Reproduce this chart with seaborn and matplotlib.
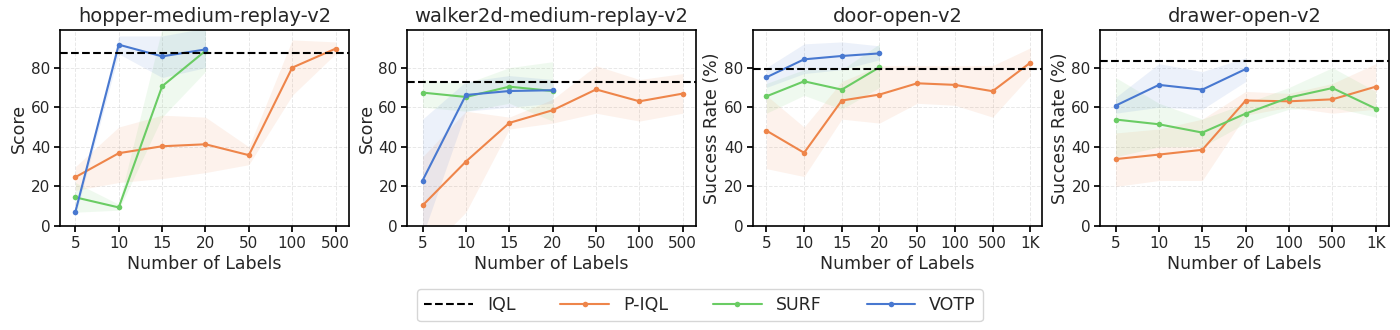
import numpy as np
import pandas as pd
import matplotlib
matplotlib.use("Agg")
import matplotlib.pyplot as plt
import seaborn as sns

# tick labels per task
hopper_x = ["5", "10", "15", "20", "50", "100", "500"]
walker_x = ["5", "10", "15", "20", "50", "100", "500"]
door_x = ["5", "10", "15", "20", "50", "100", "500", "1K"]
drawer_x = ["5", "10", "15", "20", "100", "500", "1K"]

# hopper-medium-replay-v2
hopper_iql = 87.6
hopper_piql = [24.7, 36.8, 40.3, 41.3, 35.8, 80.0, 89.6]
hopper_piql_lo = [18, 22, 24, 27, 31, 66, 87]
hopper_piql_hi = [30, 50, 56, 55, 40, 94, 93]
hopper_surf = [14.5, 9.4, 70.6, 88.5]
hopper_surf_lo = [7, 8, 55, 78]
hopper_surf_hi = [22, 11, 100, 100]
hopper_votp = [7.2, 91.6, 85.7, 89.2]
hopper_votp_lo = [5, 87, 75, 80]
hopper_votp_hi = [9, 96, 96, 100]

# walker2d-medium-replay-v2
walker_iql = 72.9
walker_piql = [10.4, 32.6, 52.1, 58.5, 69.0, 63.0, 66.9]
walker_piql_lo = [-15, 7, 49, 52, 57, 53, 57]
walker_piql_hi = [35, 58, 55, 64, 81, 74, 77]
walker_surf = [67.4, 65.2, 70.4, 68.2]
walker_surf_lo = [60, 58, 62, 53]
walker_surf_hi = [74, 72, 80, 83]
walker_votp = [23.0, 66.2, 68.2, 68.6]
walker_votp_lo = [-5, 58, 60, 62]
walker_votp_hi = [54, 73, 76, 74]

# door-open-v2
door_iql = 79.3
door_piql = [48.2, 37.0, 63.4, 66.4, 72.1, 71.3, 68.1, 82.5]
door_piql_lo = [29, 25, 54, 52, 62, 61, 55, 76]
door_piql_hi = [66, 50, 73, 81, 81, 81, 81, 90]
door_surf = [65.5, 73.1, 68.9, 80.2]
door_surf_lo = [57, 66, 59, 70]
door_surf_hi = [72, 79, 79, 92]
door_votp = [75.1, 84.2, 85.9, 87.2]
door_votp_lo = [70, 77, 79, 84]
door_votp_hi = [80, 92, 93, 91]

# drawer-open-v2
drawer_iql = 83.2
drawer_piql = [33.8, 36.1, 38.5, 63.4, 63.0, 64.0, 70.4]
drawer_piql_lo = [20, 23, 23, 56, 60, 57, 59]
drawer_piql_hi = [47, 49, 54, 68, 67, 72, 82]
drawer_surf = [53.8, 51.4, 47.2, 56.8, 64.9, 69.7, 59.3]
drawer_surf_lo = [35, 40, 40, 52, 59, 60, 55]
drawer_surf_hi = [75, 62, 54, 62, 70, 80, 68]
drawer_votp = [60.8, 71.3, 68.9, 79.3]
drawer_votp_lo = [57, 60, 59, 73]
drawer_votp_hi = [65, 82, 78, 85]

sns.set_theme(style="ticks")
plt.rcParams["font.family"] = ["DejaVu Sans"]
pal = sns.color_palette("muted")
colors = {"P-IQL": pal[1], "SURF": pal[2], "VOTP": pal[0]}

tasks = [
    ("hopper-medium-replay-v2", "Score", hopper_x, hopper_iql,
     [("P-IQL", hopper_piql, hopper_piql_lo, hopper_piql_hi),
      ("SURF", hopper_surf, hopper_surf_lo, hopper_surf_hi),
      ("VOTP", hopper_votp, hopper_votp_lo, hopper_votp_hi)]),
    ("walker2d-medium-replay-v2", "Score", walker_x, walker_iql,
     [("P-IQL", walker_piql, walker_piql_lo, walker_piql_hi),
      ("SURF", walker_surf, walker_surf_lo, walker_surf_hi),
      ("VOTP", walker_votp, walker_votp_lo, walker_votp_hi)]),
    ("door-open-v2", "Success Rate (%)", door_x, door_iql,
     [("P-IQL", door_piql, door_piql_lo, door_piql_hi),
      ("SURF", door_surf, door_surf_lo, door_surf_hi),
      ("VOTP", door_votp, door_votp_lo, door_votp_hi)]),
    ("drawer-open-v2", "Success Rate (%)", drawer_x, drawer_iql,
     [("P-IQL", drawer_piql, drawer_piql_lo, drawer_piql_hi),
      ("SURF", drawer_surf, drawer_surf_lo, drawer_surf_hi),
      ("VOTP", drawer_votp, drawer_votp_lo, drawer_votp_hi)]),
]

fig = plt.figure(figsize=(14, 3.3), dpi=100)
lefts = [0.043, 0.291, 0.538, 0.786]
handles = None
for left, (title, ylabel, xt, iql, series) in zip(lefts, tasks):
    ax = fig.add_axes([left, 0.315, 0.206, 0.594])
    ax.axhline(iql, color="black", ls="--", lw=1.5, label="IQL", zorder=3)
    for name, mean, lo, hi in series:
        pos = np.arange(len(mean))
        df = pd.DataFrame({"x": pos, "y": mean})
        sns.lineplot(data=df, x="x", y="y", ax=ax, color=colors[name],
                     marker="o", markersize=4, markeredgewidth=0, lw=1.5,
                     label=name)
        ax.fill_between(pos, lo, hi, color=colors[name], alpha=0.1, lw=0)
    ax.set_xticks(range(len(xt)))
    ax.set_xticklabels(xt)
    ax.set_xlim(-0.35, len(xt) - 1 + 0.3)
    ax.set_ylim(0, 99)
    ax.set_yticks([0, 20, 40, 60, 80])
    ax.tick_params(labelsize=11, length=4, color="black", pad=3)
    ax.grid(True, ls="--", lw=0.7, alpha=0.45)
    for s in ax.spines.values():
        s.set_visible(True)
        s.set_color("black")
        s.set_linewidth(1.2)
    ax.set_title(title, fontsize=14)
    ax.set_xlabel("Number of Labels", fontsize=12.5, labelpad=3)
    ax.set_ylabel(ylabel, fontsize=12.5, labelpad=2)
    handles, labels = ax.get_legend_handles_labels()
    ax.get_legend().remove()

order = ["IQL", "P-IQL", "SURF", "VOTP"]
hmap = dict(zip(labels, handles))
fig.legend([hmap[k] for k in order], order, loc="lower center",
           bbox_to_anchor=(0.5, 0.0), ncol=4, fontsize=12.5,
           handlelength=2.8, columnspacing=2.6, frameon=True)

fig.savefig("out.png", dpi=100)
